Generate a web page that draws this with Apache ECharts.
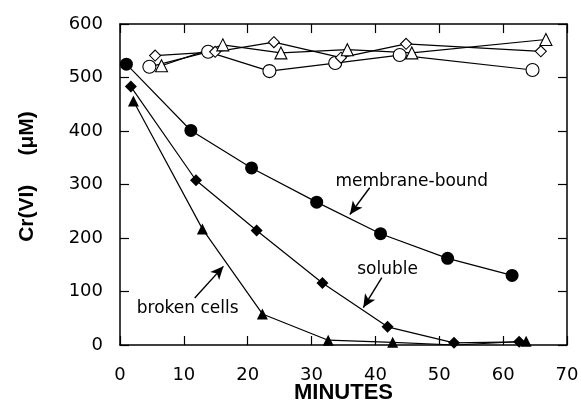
<!DOCTYPE html>
<html>
<head>
<meta charset="utf-8">
<script src="https://cdn.jsdelivr.net/npm/echarts@6/dist/echarts.min.js"></script>
<style>html,body{margin:0;padding:0;background:#fff;}#c{width:581px;height:403px;}</style>
</head>
<body>
<div id="c"></div>
<script>
// ---- data (minutes, Cr(VI) µM) ----
const xTicks = [0, 10, 20, 30, 40, 50, 60, 70];
const yTicks = [0, 100, 200, 300, 400, 500, 600];

const membraneBound = [[1.0, 525], [11.1, 401], [20.6, 331], [30.8, 267], [40.8, 208], [51.3, 162], [61.4, 130]];
const soluble = [[1.7, 483], [11.9, 308], [21.4, 214], [31.7, 116], [41.9, 34], [52.3, 4], [62.5, 6]];
const brokenCells = [[2.1, 456], [12.9, 217], [22.3, 58], [32.6, 9], [42.7, 5], [52.5, 0], [63.6, 7]];

const controlMembrane = [[4.6, 520], [13.8, 548], [23.4, 512], [33.7, 527], [43.8, 542], [64.6, 514]];
const controlSoluble = [[5.5, 541], [14.9, 548], [24.1, 566], [34.6, 537], [44.8, 563], [65.9, 549]];
const controlBroken = [[6.5, 522], [16.1, 561], [25.2, 546], [35.6, 552], [45.7, 546], [66.7, 571]];

// annotations in data coordinates: text centre, arrow start, arrow tip
const annLabels = ['membrane-bound', 'soluble', 'broken cells'];
const annText = [[45.7, 306], [41.9, 141], [10.6, 69]];
const annArrowFrom = [[39.1, 294], [41.0, 126], [11.7, 88]];
const annArrowTo = [[36.0, 244], [38.1, 70], [16.2, 147]];

const chart = echarts.init(document.getElementById('c'), null, {renderer: 'canvas'});

const lineW = 1.2;
function filled(name, data, symbol, size) {
  return {
    name, type: 'line', data, symbol, symbolSize: size, showSymbol: true,
    lineStyle: {color: '#000', width: lineW},
    itemStyle: {color: '#000', borderColor: '#000', borderWidth: 0},
    emphasis: {disabled: true}, animation: false, z: 3
  };
}
function open(name, data, symbol, size) {
  return {
    name, type: 'line', data, symbol, symbolSize: size, showSymbol: true,
    lineStyle: {color: '#000', width: lineW},
    itemStyle: {color: '#fff', borderColor: '#000', borderWidth: 1.1},
    emphasis: {disabled: true}, animation: false, z: 3
  };
}

const labelFont = {fontFamily: 'DejaVu Sans', fontSize: 18, color: '#000'};
const axisCommon = {
  axisLine: {show: true, onZero: false, lineStyle: {color: '#000', width: 1.5}},
  axisTick: {show: true, inside: true, length: 9, lineStyle: {color: '#000', width: 1.2}},
  splitLine: {show: false}
};

const mb = filled('membrane-bound', membraneBound, 'circle', 13);
mb.markLine = {
  silent: true, animation: false,
  symbol: ['none', 'arrow'], symbolSize: [9, 13],
  lineStyle: {color: '#000', width: 1.4, type: 'solid'},
  label: {show: false},
  emphasis: {disabled: true},
  data: annLabels.map((n, i) => [
    {coord: annArrowFrom[i], symbol: 'none'},
    {coord: annArrowTo[i], symbol: 'arrow'}
  ])
};
mb.markPoint = {
  silent: true, animation: false,
  symbol: 'circle', symbolSize: 1,
  itemStyle: {color: 'rgba(0,0,0,0)'},
  label: {show: true, position: 'inside', fontFamily: 'DejaVu Sans', fontSize: 17, color: '#000'},
  emphasis: {disabled: true},
  data: annLabels.map((n, i) => ({coord: annText[i], label: {formatter: n}}))
};

// the broken-cells point that sits on the baseline is hidden under the soluble marker
const brokenSeries = filled('broken cells',
  brokenCells.map(p => (p[1] === 0 ? {value: p, symbol: 'none'} : p)), 'triangle', 11);

const option = {
  backgroundColor: '#fff',
  animation: false,
  grid: {left: 120, right: 14, top: 24, bottom: 58, containLabel: false, outerBoundsMode: 'none'},
  xAxis: [
    Object.assign({}, axisCommon, {
      type: 'value', min: xTicks[0], max: xTicks[xTicks.length - 1], interval: 10,
      name: 'MINUTES', nameLocation: 'middle', nameGap: 37, nameMoveOverlap: false,
      nameTextStyle: {fontFamily: 'Liberation Sans', fontWeight: 'bold', fontSize: 22, color: '#000'},
      axisLabel: Object.assign({show: true, margin: 21}, labelFont)
    }),
    Object.assign({}, axisCommon, {
      type: 'value', position: 'top', min: xTicks[0], max: xTicks[xTicks.length - 1], interval: 10,
      axisLabel: {show: false}
    })
  ],
  yAxis: [
    Object.assign({}, axisCommon, {
      type: 'value', min: yTicks[0], max: yTicks[yTicks.length - 1], interval: 100,
      name: 'Cr(VI)     (\u03bcM)', nameLocation: 'middle', nameGap: 82, nameRotate: 90, nameMoveOverlap: false,
      nameTextStyle: {fontFamily: 'Liberation Sans', fontWeight: 'bold', fontSize: 21, color: '#000',
        padding: [0, 0, 0, 16]},
      axisLabel: Object.assign({show: true, margin: 17}, labelFont)
    }),
    Object.assign({}, axisCommon, {
      type: 'value', position: 'right', min: yTicks[0], max: yTicks[yTicks.length - 1], interval: 100,
      axisLabel: {show: false}
    })
  ],
  series: [
    open('control (membrane-bound)', controlMembrane, 'circle', 13),
    open('control (soluble)', controlSoluble, 'diamond', 11),
    open('control (broken cells)', controlBroken, 'triangle', 12),
    mb,
    filled('soluble', soluble, 'diamond', 12),
    brokenSeries
  ]
};
chart.setOption(option);
</script>
</body>
</html>
